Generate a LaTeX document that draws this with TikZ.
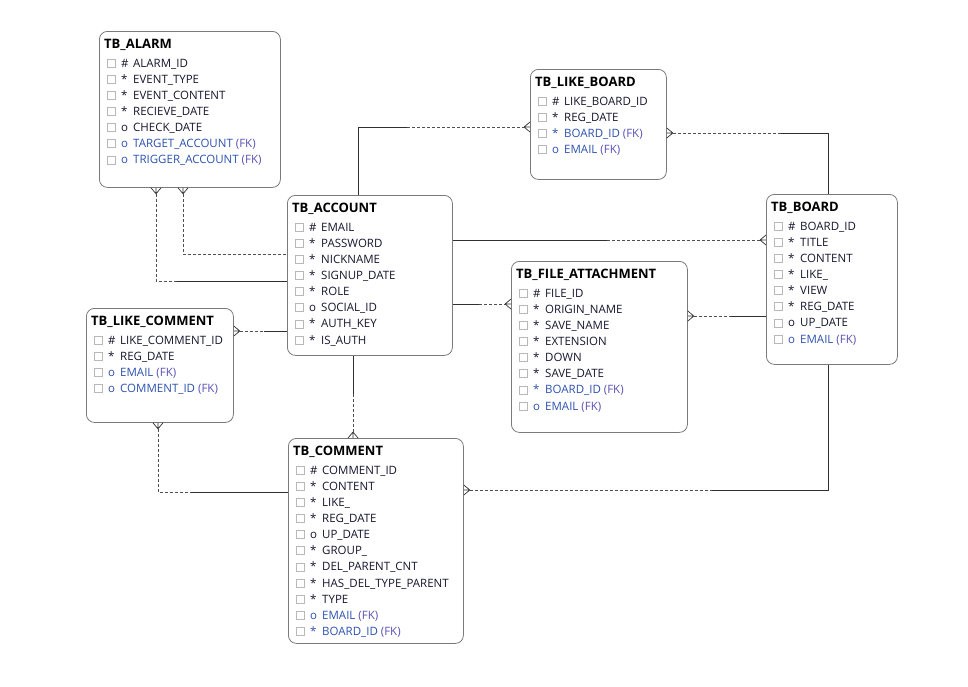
\documentclass[tikz,border=0pt]{standalone}
\usepackage{fontspec}
\setmainfont{Open Sans}
\usetikzlibrary{calc}

\definecolor{frame}{HTML}{7A7A7A}
\definecolor{ink}{HTML}{16162E}
\definecolor{fkblue}{HTML}{2D52AE}
\definecolor{fkviolet}{HTML}{5A52B4}
\definecolor{chkgray}{HTML}{B8B8B8}
\definecolor{lnk}{HTML}{303030}

\tikzset{
  tbl/.style={draw=frame, line width=0.8pt, rounded corners=8pt, anchor=north west, inner sep=0pt, fill=white},
  ttl/.style={anchor=base west, inner sep=0pt, font=\fontsize{13}{15}\selectfont\bfseries, text=black},
  fld/.style={anchor=base west, inner sep=0pt, font=\fontsize{11.5}{13}\selectfont, text=ink},
  chk/.style={draw=chkgray, line width=0.6pt, minimum size=8pt, inner sep=0pt},
  rel/.style={draw=lnk, line width=0.9pt},
  opt/.style={draw=lnk!85, line width=0.9pt, dash pattern=on 3pt off 2pt},
  foot/.style={draw=lnk, line width=0.7pt},
}

% entity box with its title
\newcommand\mktable[6]{%
  \node[tbl, minimum width=#4pt, minimum height=#5pt] (#1) at (#2,#3) {};
  \node[ttl] (#1-title) at ($(#1.north west)+(5,17.5)$) {#6};
}
% one attribute row: table, index, marker, name, colour
\newcommand\mkfield[5]{%
  \node[chk] (#1-c#2) at ($(#1.north west)+(12,{32+(#2-1)*16.15})$) {};
  \node[fld, text=#5] (#1-s#2) at ($(#1.north west)+(22,{36+(#2-1)*16.15})$) {#3};
  \node[fld, text=#5] (#1-f#2) at ($(#1.north west)+(34,{36+(#2-1)*16.15})$) {#4};
}
% crow's foot at an edge point, (dx,dy) pointing away from the box
\newcommand\crow[3]{%
  \draw[foot] ($(#1)+(6*#2,6*#3)$) -- (#1)
    ($(#1)+(6*#2,6*#3)$) -- ($(#1)+(5*#3,5*#2)$)
    ($(#1)+(6*#2,6*#3)$) -- ($(#1)+(-5*#3,-5*#2)$);
}
\newcommand\fk[1]{#1 \textcolor{fkviolet}{(FK)}}

\begin{document}
\begin{tikzpicture}[x=1pt,y=-1pt]
\useasboundingbox[fill=white] (0,0) rectangle (968,686);

% ---------- entities ----------
\mktable{alarm}{99}{31}{181}{156}{TB\_ALARM}
\mkfield{alarm}{1}{\#}{ALARM\_ID}{ink}
\mkfield{alarm}{2}{*}{EVENT\_TYPE}{ink}
\mkfield{alarm}{3}{*}{EVENT\_CONTENT}{ink}
\mkfield{alarm}{4}{*}{RECIEVE\_DATE}{ink}
\mkfield{alarm}{5}{o}{CHECK\_DATE}{ink}
\mkfield{alarm}{6}{o}{\fk{TARGET\_ACCOUNT}}{fkblue}
\mkfield{alarm}{7}{o}{\fk{TRIGGER\_ACCOUNT}}{fkblue}

\mktable{likeboard}{530}{69}{136}{110}{TB\_LIKE\_BOARD}
\mkfield{likeboard}{1}{\#}{LIKE\_BOARD\_ID}{ink}
\mkfield{likeboard}{2}{*}{REG\_DATE}{ink}
\mkfield{likeboard}{3}{*}{\fk{BOARD\_ID}}{fkblue}
\mkfield{likeboard}{4}{o}{\fk{EMAIL}}{fkblue}

\mktable{account}{287}{195}{165}{160}{TB\_ACCOUNT}
\mkfield{account}{1}{\#}{EMAIL}{ink}
\mkfield{account}{2}{*}{PASSWORD}{ink}
\mkfield{account}{3}{*}{NICKNAME}{ink}
\mkfield{account}{4}{*}{SIGNUP\_DATE}{ink}
\mkfield{account}{5}{*}{ROLE}{ink}
\mkfield{account}{6}{o}{SOCIAL\_ID}{ink}
\mkfield{account}{7}{*}{AUTH\_KEY}{ink}
\mkfield{account}{8}{*}{IS\_AUTH}{ink}

\mktable{board}{766}{194}{131}{170}{TB\_BOARD}
\mkfield{board}{1}{\#}{BOARD\_ID}{ink}
\mkfield{board}{2}{*}{TITLE}{ink}
\mkfield{board}{3}{*}{CONTENT}{ink}
\mkfield{board}{4}{*}{LIKE\_}{ink}
\mkfield{board}{5}{*}{VIEW}{ink}
\mkfield{board}{6}{*}{REG\_DATE}{ink}
\mkfield{board}{7}{o}{UP\_DATE}{ink}
\mkfield{board}{8}{o}{\fk{EMAIL}}{fkblue}

\mktable{file}{511}{261}{176}{171}{TB\_FILE\_ATTACHMENT}
\mkfield{file}{1}{\#}{FILE\_ID}{ink}
\mkfield{file}{2}{*}{ORIGIN\_NAME}{ink}
\mkfield{file}{3}{*}{SAVE\_NAME}{ink}
\mkfield{file}{4}{*}{EXTENSION}{ink}
\mkfield{file}{5}{*}{DOWN}{ink}
\mkfield{file}{6}{*}{SAVE\_DATE}{ink}
\mkfield{file}{7}{*}{\fk{BOARD\_ID}}{fkblue}
\mkfield{file}{8}{o}{\fk{EMAIL}}{fkblue}

\mktable{likecomment}{86}{308}{147}{114}{TB\_LIKE\_COMMENT}
\mkfield{likecomment}{1}{\#}{LIKE\_COMMENT\_ID}{ink}
\mkfield{likecomment}{2}{*}{REG\_DATE}{ink}
\mkfield{likecomment}{3}{o}{\fk{EMAIL}}{fkblue}
\mkfield{likecomment}{4}{o}{\fk{COMMENT\_ID}}{fkblue}

\mktable{comment}{288}{438}{175}{205}{TB\_COMMENT}
\mkfield{comment}{1}{\#}{COMMENT\_ID}{ink}
\mkfield{comment}{2}{*}{CONTENT}{ink}
\mkfield{comment}{3}{*}{LIKE\_}{ink}
\mkfield{comment}{4}{*}{REG\_DATE}{ink}
\mkfield{comment}{5}{o}{UP\_DATE}{ink}
\mkfield{comment}{6}{*}{GROUP\_}{ink}
\mkfield{comment}{7}{*}{DEL\_PARENT\_CNT}{ink}
\mkfield{comment}{8}{*}{HAS\_DEL\_TYPE\_PARENT}{ink}
\mkfield{comment}{9}{*}{TYPE}{ink}
\mkfield{comment}{10}{o}{\fk{EMAIL}}{fkblue}
\mkfield{comment}{11}{*}{\fk{BOARD\_ID}}{fkblue}

% ---------- relationship end points ----------
\coordinate (ab1) at ($(account.north west)+(71,0)$);
\coordinate (lb1) at ($(likeboard.north west)+(0,58)$);
\coordinate (lb2) at ($(likeboard.north east)+(0,64)$);
\coordinate (bd1) at ($(board.north west)+(62,0)$);
\coordinate (ac2) at ($(account.north east)+(0,45)$);
\coordinate (bd2) at ($(board.north west)+(0,46)$);
\coordinate (ac3) at ($(account.north east)+(0,109)$);
\coordinate (fa1) at ($(file.north west)+(0,43)$);
\coordinate (fa2) at ($(file.north east)+(0,55)$);
\coordinate (bd3) at ($(board.north west)+(0,122)$);
\coordinate (al1) at ($(alarm.south west)+(57,0)$);
\coordinate (ac4) at ($(account.north west)+(0,86)$);
\coordinate (al2) at ($(alarm.south west)+(84,0)$);
\coordinate (ac5) at ($(account.north west)+(0,59)$);
\coordinate (lc1) at ($(likecomment.north east)+(0,23)$);
\coordinate (ac6) at ($(account.north west)+(0,136)$);
\coordinate (lc2) at ($(likecomment.south west)+(72,0)$);
\coordinate (cm1) at ($(comment.north west)+(0,54)$);
\coordinate (ac7) at ($(account.south west)+(66,0)$);
\coordinate (cm2) at ($(comment.north west)+(65,0)$);
\coordinate (cm3) at ($(comment.north east)+(0,52)$);
\coordinate (bd4) at ($(board.south west)+(62,0)$);

% ---------- relationships ----------
% TB_ACCOUNT -- TB_LIKE_BOARD
\draw[rel] (ab1) |- ($(ab1 |- lb1)+(49,0)$);
\draw[opt] ($(ab1 |- lb1)+(49,0)$) -- ($(lb1)+(-6,0)$);
\crow{lb1}{-1}{0}
% TB_BOARD -- TB_LIKE_BOARD
\draw[opt] ($(lb2)+(6,0)$) -- ($(lb2)+(114,0)$);
\draw[rel] ($(lb2)+(114,0)$) -| (bd1);
\crow{lb2}{1}{0}
% TB_ACCOUNT -- TB_BOARD
\draw[rel] (ac2) -- ($(ac2)+(154,0)$);
\draw[opt] ($(ac2)+(154,0)$) -- ($(bd2)+(-6,0)$);
\crow{bd2}{-1}{0}
% TB_ACCOUNT -- TB_FILE_ATTACHMENT
\draw[rel] (ac3) -- ($(ac3)+(26,0)$);
\draw[opt] ($(ac3)+(26,0)$) -- ($(fa1)+(-6,0)$);
\crow{fa1}{-1}{0}
% TB_BOARD -- TB_FILE_ATTACHMENT
\draw[opt] ($(fa2)+(6,0)$) -- ($(fa2)+(43,0)$);
\draw[rel] ($(fa2)+(43,0)$) -- (bd3);
\crow{fa2}{1}{0}
% TB_ACCOUNT -- TB_ALARM (two roles)
\draw[opt] ($(al1)+(0,6)$) |- ($(al1 |- ac4)+(21,0)$);
\draw[rel] ($(al1 |- ac4)+(21,0)$) -- (ac4);
\crow{al1}{0}{1}
\draw[opt] ($(al2)+(0,6)$) |- (ac5);
\crow{al2}{0}{1}
% TB_ACCOUNT -- TB_LIKE_COMMENT
\draw[opt] ($(lc1)+(6,0)$) -- ($(lc1)+(30,0)$);
\draw[rel] ($(lc1)+(30,0)$) -- (ac6);
\crow{lc1}{1}{0}
% TB_COMMENT -- TB_LIKE_COMMENT
\draw[opt] ($(lc2)+(0,6)$) |- ($(lc2 |- cm1)+(33,0)$);
\draw[rel] ($(lc2 |- cm1)+(33,0)$) -- (cm1);
\crow{lc2}{0}{1}
% TB_ACCOUNT -- TB_COMMENT
\draw[rel] (ac7) -- ($(ac7)+(0,38)$);
\draw[opt] ($(ac7)+(0,38)$) -- ($(cm2)+(0,-6)$);
\crow{cm2}{0}{-1}
% TB_BOARD -- TB_COMMENT
\draw[opt] ($(cm3)+(6,0)$) -- ($(cm3)+(248,0)$);
\draw[rel] ($(cm3)+(248,0)$) -| (bd4);
\crow{cm3}{1}{0}
\end{tikzpicture}
\end{document}
